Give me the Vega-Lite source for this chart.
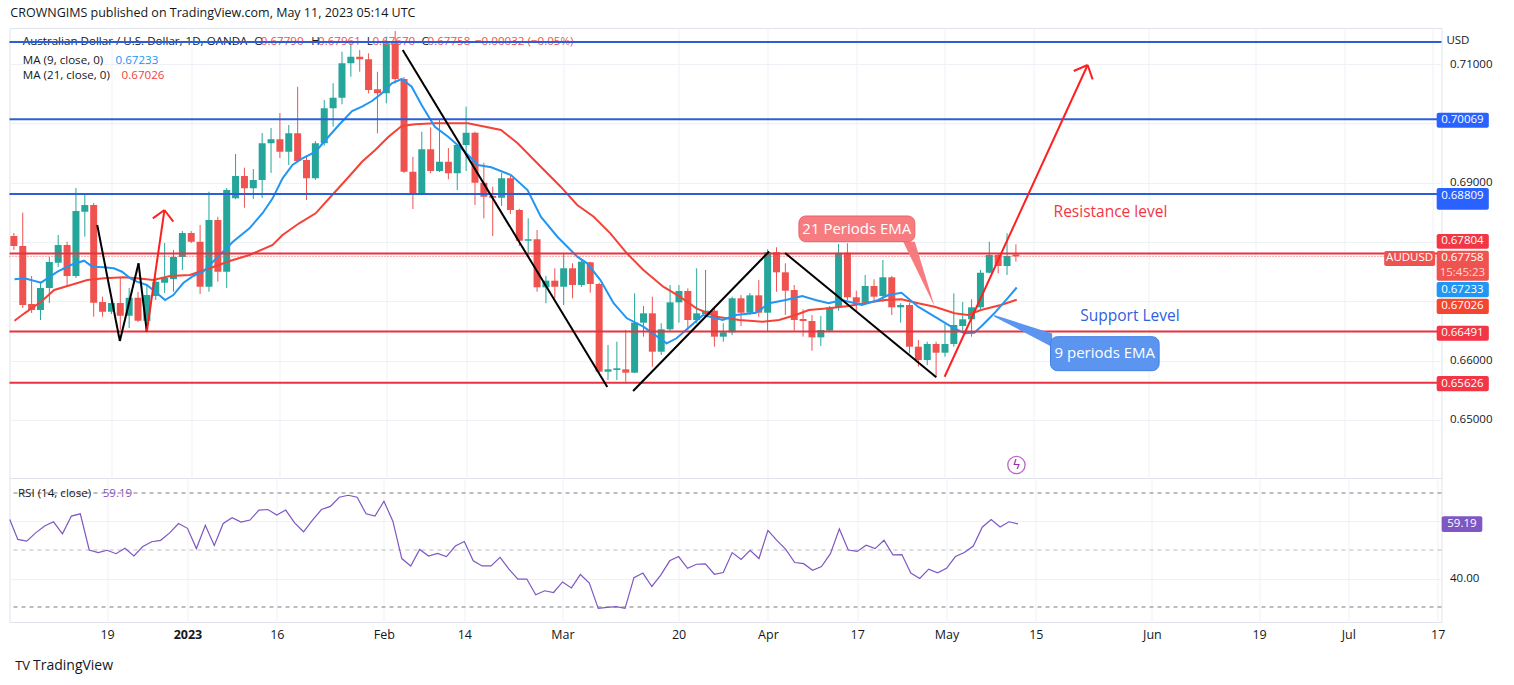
{
  "$schema": "https://vega.github.io/schema/vega-lite/v6.json",
  "description": "AUDUSD daily candles with MA 9 / MA 21, support and resistance levels, RSI pane",
  "padding": {"left": 6.5, "top": 7, "right": 0, "bottom": 0},
  "background": "white",
  "title": {
    "text": "CROWNGIMS published on TradingView.com, May 11, 2023 05:14 UTC",
    "anchor": "start", "fontSize": 12.5, "fontWeight": "normal", "color": "#131722", "offset": 8, "dx": 3.5
  },
  "config": {
    "font": "Open Sans",
    "view": {"stroke": "#E0E3EB"},
    "axis": {"labelFont": "Open Sans", "labelFontSize": 11.5, "labelColor": "#131722", "gridColor": "#EEF1F6"}
  },
  "datasets": {
    "candles": [
      {"i": -20, "o": 0.68101, "h": 0.68151, "l": 0.67865, "c": 0.67932},
      {"i": -19, "o": 0.67932, "h": 0.68494, "l": 0.66887, "c": 0.66938},
      {"i": -18, "o": 0.66955, "h": 0.67427, "l": 0.66803, "c": 0.66854},
      {"i": -17, "o": 0.66854, "h": 0.67331, "l": 0.66685, "c": 0.67225},
      {"i": -16, "o": 0.67225, "h": 0.67747, "l": 0.66972, "c": 0.67663},
      {"i": -15, "o": 0.67651, "h": 0.68118, "l": 0.67578, "c": 0.67949},
      {"i": -14, "o": 0.67949, "h": 0.68005, "l": 0.67246, "c": 0.67427},
      {"i": -13, "o": 0.67427, "h": 0.68910, "l": 0.67393, "c": 0.68522},
      {"i": -12, "o": 0.68510, "h": 0.68792, "l": 0.68089, "c": 0.68623},
      {"i": -11, "o": 0.68623, "h": 0.68657, "l": 0.66741, "c": 0.66977},
      {"i": -10, "o": 0.66988, "h": 0.67078, "l": 0.66741, "c": 0.66825},
      {"i": -9, "o": 0.66825, "h": 0.67022, "l": 0.66786, "c": 0.66972},
      {"i": -8, "o": 0.66972, "h": 0.67410, "l": 0.66517, "c": 0.66758},
      {"i": -7, "o": 0.66758, "h": 0.67225, "l": 0.66550, "c": 0.67061},
      {"i": -6, "o": 0.67061, "h": 0.67157, "l": 0.66651, "c": 0.66673},
      {"i": -5, "o": 0.66673, "h": 0.67275, "l": 0.66488, "c": 0.67106},
      {"i": -4, "o": 0.67090, "h": 0.67415, "l": 0.67022, "c": 0.67331},
      {"i": -3, "o": 0.67314, "h": 0.67983, "l": 0.67140, "c": 0.67393},
      {"i": -2, "o": 0.67376, "h": 0.67865, "l": 0.67162, "c": 0.67747},
      {"i": -1, "o": 0.67747, "h": 0.68185, "l": 0.67528, "c": 0.68151},
      {"i": 0, "o": 0.68151, "h": 0.68185, "l": 0.67983, "c": 0.68005},
      {"i": 1, "o": 0.68005, "h": 0.68286, "l": 0.67123, "c": 0.67246},
      {"i": 2, "o": 0.67246, "h": 0.68848, "l": 0.67162, "c": 0.68371},
      {"i": 3, "o": 0.68371, "h": 0.68426, "l": 0.67331, "c": 0.67499},
      {"i": 4, "o": 0.67499, "h": 0.68910, "l": 0.67225, "c": 0.68876},
      {"i": 5, "o": 0.68736, "h": 0.69483, "l": 0.68720, "c": 0.69112},
      {"i": 6, "o": 0.69112, "h": 0.69252, "l": 0.68578, "c": 0.68905},
      {"i": 7, "o": 0.68905, "h": 0.69230, "l": 0.68725, "c": 0.69045},
      {"i": 8, "o": 0.69045, "h": 0.69837, "l": 0.68741, "c": 0.69663},
      {"i": 9, "o": 0.69663, "h": 0.69921, "l": 0.69163, "c": 0.69731},
      {"i": 10, "o": 0.69731, "h": 0.70174, "l": 0.69416, "c": 0.69522},
      {"i": 11, "o": 0.69522, "h": 0.69972, "l": 0.69298, "c": 0.69832},
      {"i": 12, "o": 0.69832, "h": 0.70617, "l": 0.69343, "c": 0.69365},
      {"i": 13, "o": 0.69382, "h": 0.69437, "l": 0.68708, "c": 0.69073},
      {"i": 14, "o": 0.69073, "h": 0.69702, "l": 0.69045, "c": 0.69663},
      {"i": 15, "o": 0.69663, "h": 0.70393, "l": 0.69623, "c": 0.70253},
      {"i": 16, "o": 0.70253, "h": 0.70675, "l": 0.69943, "c": 0.70432},
      {"i": 17, "o": 0.70432, "h": 0.71207, "l": 0.70321, "c": 0.71012},
      {"i": 18, "o": 0.71012, "h": 0.71349, "l": 0.70786, "c": 0.71123},
      {"i": 19, "o": 0.71123, "h": 0.71236, "l": 0.70870, "c": 0.71079},
      {"i": 20, "o": 0.71079, "h": 0.71180, "l": 0.70506, "c": 0.70562},
      {"i": 21, "o": 0.70574, "h": 0.70870, "l": 0.69832, "c": 0.70506},
      {"i": 22, "o": 0.70506, "h": 0.71460, "l": 0.70338, "c": 0.71349},
      {"i": 23, "o": 0.71349, "h": 0.71556, "l": 0.70675, "c": 0.70747},
      {"i": 24, "o": 0.70747, "h": 0.70781, "l": 0.69163, "c": 0.69185},
      {"i": 25, "o": 0.69185, "h": 0.69437, "l": 0.68556, "c": 0.68792},
      {"i": 26, "o": 0.68804, "h": 0.69859, "l": 0.68790, "c": 0.69562},
      {"i": 27, "o": 0.69562, "h": 0.69933, "l": 0.69158, "c": 0.69197},
      {"i": 28, "o": 0.69197, "h": 0.70068, "l": 0.69180, "c": 0.69353},
      {"i": 29, "o": 0.69353, "h": 0.69584, "l": 0.69057, "c": 0.69158},
      {"i": 30, "o": 0.69158, "h": 0.69650, "l": 0.68876, "c": 0.69635},
      {"i": 31, "o": 0.69635, "h": 0.70280, "l": 0.69197, "c": 0.69842},
      {"i": 32, "o": 0.69842, "h": 0.69859, "l": 0.68623, "c": 0.68999},
      {"i": 33, "o": 0.68999, "h": 0.69336, "l": 0.68399, "c": 0.68763},
      {"i": 34, "o": 0.68775, "h": 0.68932, "l": 0.68101, "c": 0.68746},
      {"i": 35, "o": 0.68746, "h": 0.69168, "l": 0.68607, "c": 0.69073},
      {"i": 36, "o": 0.69073, "h": 0.69112, "l": 0.68472, "c": 0.68539},
      {"i": 37, "o": 0.68539, "h": 0.68560, "l": 0.67932, "c": 0.68022},
      {"i": 38, "o": 0.68022, "h": 0.68399, "l": 0.67752, "c": 0.68045},
      {"i": 39, "o": 0.68045, "h": 0.68202, "l": 0.67162, "c": 0.67236},
      {"i": 40, "o": 0.67236, "h": 0.67427, "l": 0.66967, "c": 0.67348},
      {"i": 41, "o": 0.67348, "h": 0.67557, "l": 0.67051, "c": 0.67246},
      {"i": 42, "o": 0.67246, "h": 0.67809, "l": 0.66938, "c": 0.67557},
      {"i": 43, "o": 0.67557, "h": 0.67641, "l": 0.67051, "c": 0.67275},
      {"i": 44, "o": 0.67275, "h": 0.67696, "l": 0.67241, "c": 0.67668},
      {"i": 45, "o": 0.67658, "h": 0.67668, "l": 0.67145, "c": 0.67292},
      {"i": 46, "o": 0.67292, "h": 0.67314, "l": 0.65787, "c": 0.65814},
      {"i": 47, "o": 0.65814, "h": 0.66264, "l": 0.65674, "c": 0.65854},
      {"i": 48, "o": 0.65842, "h": 0.66319, "l": 0.65674, "c": 0.65871},
      {"i": 49, "o": 0.65854, "h": 0.66517, "l": 0.65645, "c": 0.65797},
      {"i": 50, "o": 0.65797, "h": 0.67135, "l": 0.65790, "c": 0.66640},
      {"i": 51, "o": 0.66640, "h": 0.66921, "l": 0.66404, "c": 0.66798},
      {"i": 52, "o": 0.66798, "h": 0.67078, "l": 0.65898, "c": 0.66151},
      {"i": 53, "o": 0.66151, "h": 0.66630, "l": 0.66095, "c": 0.66528},
      {"i": 54, "o": 0.66528, "h": 0.67275, "l": 0.66488, "c": 0.66983},
      {"i": 55, "o": 0.66983, "h": 0.67275, "l": 0.66640, "c": 0.67174},
      {"i": 56, "o": 0.67174, "h": 0.67219, "l": 0.66517, "c": 0.66685},
      {"i": 57, "o": 0.66685, "h": 0.67557, "l": 0.66630, "c": 0.66798},
      {"i": 58, "o": 0.66786, "h": 0.67528, "l": 0.66769, "c": 0.66842},
      {"i": 59, "o": 0.66842, "h": 0.66882, "l": 0.66235, "c": 0.66404},
      {"i": 60, "o": 0.66404, "h": 0.66630, "l": 0.66319, "c": 0.66478},
      {"i": 61, "o": 0.66478, "h": 0.67078, "l": 0.66432, "c": 0.67051},
      {"i": 62, "o": 0.67051, "h": 0.67106, "l": 0.66584, "c": 0.66808},
      {"i": 63, "o": 0.66808, "h": 0.67140, "l": 0.66769, "c": 0.67101},
      {"i": 64, "o": 0.67101, "h": 0.67359, "l": 0.66741, "c": 0.66808},
      {"i": 65, "o": 0.66808, "h": 0.67877, "l": 0.66488, "c": 0.67826},
      {"i": 66, "o": 0.67826, "h": 0.67911, "l": 0.67162, "c": 0.67489},
      {"i": 67, "o": 0.67489, "h": 0.67641, "l": 0.66769, "c": 0.67179},
      {"i": 68, "o": 0.67191, "h": 0.67275, "l": 0.66505, "c": 0.66685},
      {"i": 69, "o": 0.66702, "h": 0.66865, "l": 0.66404, "c": 0.66668},
      {"i": 70, "o": 0.66668, "h": 0.66769, "l": 0.66168, "c": 0.66393},
      {"i": 71, "o": 0.66393, "h": 0.66753, "l": 0.66247, "c": 0.66517},
      {"i": 72, "o": 0.66505, "h": 0.66921, "l": 0.66483, "c": 0.66899},
      {"i": 73, "o": 0.66899, "h": 0.67966, "l": 0.66842, "c": 0.67819},
      {"i": 74, "o": 0.67819, "h": 0.67978, "l": 0.67022, "c": 0.67068},
      {"i": 75, "o": 0.67068, "h": 0.67179, "l": 0.66825, "c": 0.66977},
      {"i": 76, "o": 0.66977, "h": 0.67444, "l": 0.66938, "c": 0.67258},
      {"i": 77, "o": 0.67258, "h": 0.67371, "l": 0.67022, "c": 0.67078},
      {"i": 78, "o": 0.67090, "h": 0.67696, "l": 0.66993, "c": 0.67405},
      {"i": 79, "o": 0.67405, "h": 0.67427, "l": 0.66769, "c": 0.66899},
      {"i": 80, "o": 0.66899, "h": 0.66967, "l": 0.66640, "c": 0.66938},
      {"i": 81, "o": 0.66938, "h": 0.66977, "l": 0.66124, "c": 0.66235},
      {"i": 82, "o": 0.66235, "h": 0.66348, "l": 0.65898, "c": 0.66011},
      {"i": 83, "o": 0.66011, "h": 0.66319, "l": 0.65927, "c": 0.66281},
      {"i": 84, "o": 0.66281, "h": 0.66319, "l": 0.65729, "c": 0.66134},
      {"i": 85, "o": 0.66134, "h": 0.66618, "l": 0.66067, "c": 0.66281},
      {"i": 86, "o": 0.66281, "h": 0.67135, "l": 0.66235, "c": 0.66601},
      {"i": 87, "o": 0.66584, "h": 0.66988, "l": 0.66488, "c": 0.66697},
      {"i": 88, "o": 0.66697, "h": 0.67034, "l": 0.66404, "c": 0.66899},
      {"i": 89, "o": 0.66899, "h": 0.67528, "l": 0.66871, "c": 0.67482},
      {"i": 90, "o": 0.67482, "h": 0.68005, "l": 0.67472, "c": 0.67781},
      {"i": 91, "o": 0.67781, "h": 0.67809, "l": 0.67472, "c": 0.67595},
      {"i": 92, "o": 0.67595, "h": 0.68146, "l": 0.67444, "c": 0.67764},
      {"i": 93, "o": 0.67790, "h": 0.67961, "l": 0.67670, "c": 0.67758}
    ],
    "ma9": [
      {"i": -19.93, "p": 0.67371}, {"i": -18.81, "p": 0.67388}, {"i": -16.94, "p": 0.67314}, {"i": -15.08, "p": 0.67499},
      {"i": -13.58, "p": 0.67612}, {"i": -12.09, "p": 0.67685}, {"i": -11.16, "p": 0.67584}, {"i": -9.85, "p": 0.67573},
      {"i": -8.73, "p": 0.67557}, {"i": -7.81, "p": 0.67499}, {"i": -6.86, "p": 0.67388}, {"i": -6.13, "p": 0.67331},
      {"i": -5.01, "p": 0.67275}, {"i": -4.06, "p": 0.67162}, {"i": -2.95, "p": 0.67022}, {"i": -2.02, "p": 0.67106},
      {"i": -0.9, "p": 0.67309}, {"i": 0.22, "p": 0.67427}, {"i": 1.34, "p": 0.67499}, {"i": 3.21, "p": 0.67781},
      {"i": 4.7, "p": 0.68005}, {"i": 6.57, "p": 0.68231}, {"i": 8.06, "p": 0.68489}, {"i": 9.18, "p": 0.68736},
      {"i": 10.3, "p": 0.69073}, {"i": 11.42, "p": 0.69298}, {"i": 12.54, "p": 0.69411}, {"i": 14.03, "p": 0.69522},
      {"i": 15.15, "p": 0.69719}, {"i": 16.65, "p": 0.69972}, {"i": 18.14, "p": 0.70208}, {"i": 19.26, "p": 0.7028},
      {"i": 20.38, "p": 0.70376}, {"i": 21.5, "p": 0.70506}, {"i": 22.62, "p": 0.70675}, {"i": 23.74, "p": 0.70747},
      {"i": 24.86, "p": 0.70617}, {"i": 25.98, "p": 0.70309}, {"i": 27.47, "p": 0.69943}, {"i": 28.97, "p": 0.69775},
      {"i": 30.46, "p": 0.69579}, {"i": 32.33, "p": 0.69298}, {"i": 33.83, "p": 0.69259}, {"i": 36.06, "p": 0.69129},
      {"i": 37.93, "p": 0.68876}, {"i": 39.42, "p": 0.68426}, {"i": 41.29, "p": 0.68089}, {"i": 43.53, "p": 0.67752},
      {"i": 44.65, "p": 0.67641}, {"i": 46.14, "p": 0.67359}, {"i": 47.63, "p": 0.66967}, {"i": 49.13, "p": 0.66714},
      {"i": 50.99, "p": 0.66572}, {"i": 53.61, "p": 0.66292}, {"i": 54.73, "p": 0.66377}, {"i": 56.22, "p": 0.66572},
      {"i": 57.71, "p": 0.66769}, {"i": 59.94, "p": 0.66685}, {"i": 61.44, "p": 0.66769}, {"i": 63.68, "p": 0.66808},
      {"i": 65.17, "p": 0.66967}, {"i": 67.04, "p": 0.67022}, {"i": 68.9, "p": 0.6709}, {"i": 70.4, "p": 0.67022},
      {"i": 71.89, "p": 0.66967}, {"i": 73.38, "p": 0.67022}, {"i": 75.62, "p": 0.66938}, {"i": 77.49, "p": 0.67022},
      {"i": 78.61, "p": 0.67106}, {"i": 80.1, "p": 0.67145}, {"i": 81.97, "p": 0.66909}, {"i": 83.84, "p": 0.66741},
      {"i": 85.7, "p": 0.66572}, {"i": 87.2, "p": 0.66461}, {"i": 88.32, "p": 0.66471}, {"i": 89.25, "p": 0.66601},
      {"i": 90.56, "p": 0.66798}, {"i": 92.05, "p": 0.67051}, {"i": 93.09, "p": 0.67233}
    ],
    "ma21": [
      {"i": -19.93, "p": 0.66673}, {"i": -18.81, "p": 0.66798}, {"i": -16.94, "p": 0.66993}, {"i": -15.45, "p": 0.67191},
      {"i": -13.58, "p": 0.67275}, {"i": -11.72, "p": 0.67359}, {"i": -9.85, "p": 0.67388}, {"i": -7.61, "p": 0.67405},
      {"i": -6.13, "p": 0.67388}, {"i": -4.26, "p": 0.67359}, {"i": -2.39, "p": 0.67427}, {"i": -0.15, "p": 0.67444},
      {"i": 2.09, "p": 0.67557}, {"i": 4.33, "p": 0.6768}, {"i": 6.57, "p": 0.67781}, {"i": 9.18, "p": 0.67949},
      {"i": 10.3, "p": 0.68118}, {"i": 12.17, "p": 0.68315}, {"i": 14.03, "p": 0.68483}, {"i": 15.9, "p": 0.68792},
      {"i": 17.77, "p": 0.691}, {"i": 19.26, "p": 0.69353}, {"i": 20.75, "p": 0.6955}, {"i": 22.25, "p": 0.69775},
      {"i": 23.74, "p": 0.69955}, {"i": 25.23, "p": 0.69984}, {"i": 27.47, "p": 0.7}, {"i": 31.21, "p": 0.7},
      {"i": 34.94, "p": 0.69888}, {"i": 36.81, "p": 0.69663}, {"i": 39.42, "p": 0.69269}, {"i": 41.66, "p": 0.68932},
      {"i": 43.53, "p": 0.68623}, {"i": 45.39, "p": 0.68426}, {"i": 47.26, "p": 0.68146}, {"i": 49.13, "p": 0.67809},
      {"i": 50.99, "p": 0.67528}, {"i": 53.23, "p": 0.67246}, {"i": 55.1, "p": 0.67078}, {"i": 56.97, "p": 0.66882},
      {"i": 59.2, "p": 0.66741}, {"i": 61.81, "p": 0.66685}, {"i": 64.42, "p": 0.66656}, {"i": 66.29, "p": 0.66685},
      {"i": 68.16, "p": 0.66769}, {"i": 69.65, "p": 0.66854}, {"i": 71.89, "p": 0.66882}, {"i": 74.13, "p": 0.66921},
      {"i": 76.37, "p": 0.6698}, {"i": 78.24, "p": 0.67022}, {"i": 80.1, "p": 0.67034}, {"i": 81.97, "p": 0.66967},
      {"i": 83.84, "p": 0.66909}, {"i": 86.08, "p": 0.66798}, {"i": 87.57, "p": 0.66769}, {"i": 89.06, "p": 0.66854},
      {"i": 91.3, "p": 0.66938}, {"i": 93.09, "p": 0.67026}
    ],
    "rsi": [
      {"i": -19.9, "v": 60.7}, {"i": -19, "v": 53.7}, {"i": -18, "v": 53.1}, {"i": -17, "v": 56.0}, {"i": -16, "v": 58.4},
      {"i": -15, "v": 59.9}, {"i": -14, "v": 55.7}, {"i": -13, "v": 61.9}, {"i": -12, "v": 62.7}, {"i": -11, "v": 50.0},
      {"i": -10, "v": 49.1}, {"i": -9, "v": 49.9}, {"i": -8, "v": 48.7}, {"i": -7, "v": 50.6}, {"i": -6, "v": 47.9},
      {"i": -5, "v": 51.2}, {"i": -4, "v": 52.9}, {"i": -3, "v": 53.4}, {"i": -2, "v": 56.0}, {"i": -1, "v": 59.3},
      {"i": 0, "v": 57.6}, {"i": 1, "v": 50.5}, {"i": 2, "v": 58.7}, {"i": 3, "v": 51.6}, {"i": 4, "v": 59.3},
      {"i": 5, "v": 61.3}, {"i": 6, "v": 59.8}, {"i": 7, "v": 60.5}, {"i": 8, "v": 64.0}, {"i": 9, "v": 64.2},
      {"i": 10, "v": 62.3}, {"i": 11, "v": 64.0}, {"i": 12, "v": 59.5}, {"i": 13, "v": 56.4}, {"i": 14, "v": 60.5},
      {"i": 15, "v": 64.2}, {"i": 16, "v": 65.3}, {"i": 17, "v": 68.5}, {"i": 18, "v": 69.2}, {"i": 19, "v": 68.5},
      {"i": 20, "v": 62.7}, {"i": 21, "v": 61.9}, {"i": 22, "v": 67.1}, {"i": 23, "v": 60.1}, {"i": 24, "v": 47.0},
      {"i": 25, "v": 44.4}, {"i": 26, "v": 50.2}, {"i": 27, "v": 47.9}, {"i": 28, "v": 48.8}, {"i": 29, "v": 47.7},
      {"i": 30, "v": 51.4}, {"i": 31, "v": 53.0}, {"i": 32, "v": 46.2}, {"i": 33, "v": 44.4}, {"i": 34, "v": 44.4},
      {"i": 35, "v": 47.4}, {"i": 36, "v": 43.3}, {"i": 37, "v": 39.8}, {"i": 38, "v": 39.8}, {"i": 39, "v": 34.3},
      {"i": 40, "v": 35.7}, {"i": 41, "v": 35.1}, {"i": 42, "v": 38.8}, {"i": 43, "v": 36.7}, {"i": 44, "v": 41.4},
      {"i": 45, "v": 38.4}, {"i": 46, "v": 29.5}, {"i": 47, "v": 29.9}, {"i": 48, "v": 30.1}, {"i": 49, "v": 29.5},
      {"i": 50, "v": 40.3}, {"i": 51, "v": 41.9}, {"i": 52, "v": 37.2}, {"i": 53, "v": 41.2}, {"i": 54, "v": 46.2},
      {"i": 55, "v": 47.7}, {"i": 56, "v": 43.6}, {"i": 57, "v": 45.0}, {"i": 58, "v": 45.1}, {"i": 59, "v": 41.5},
      {"i": 60, "v": 42.1}, {"i": 61, "v": 49.1}, {"i": 62, "v": 46.7}, {"i": 63, "v": 49.9}, {"i": 64, "v": 47.0},
      {"i": 65, "v": 56.9}, {"i": 66, "v": 53.4}, {"i": 67, "v": 50.2}, {"i": 68, "v": 45.6}, {"i": 69, "v": 45.2},
      {"i": 70, "v": 42.9}, {"i": 71, "v": 44.2}, {"i": 72, "v": 48.7}, {"i": 73, "v": 57.4}, {"i": 74, "v": 50.0},
      {"i": 75, "v": 49.5}, {"i": 76, "v": 51.7}, {"i": 77, "v": 50.5}, {"i": 78, "v": 53.4}, {"i": 79, "v": 48.3},
      {"i": 80, "v": 48.4}, {"i": 81, "v": 41.9}, {"i": 82, "v": 40.0}, {"i": 83, "v": 43.3}, {"i": 84, "v": 42.0},
      {"i": 85, "v": 43.6}, {"i": 86, "v": 47.7}, {"i": 87, "v": 49.1}, {"i": 88, "v": 51.4}, {"i": 89, "v": 58.0},
      {"i": 90, "v": 60.7}, {"i": 91, "v": 58.1}, {"i": 92, "v": 59.9}, {"i": 93, "v": 59.19}
    ],
    "segments": [
      {"i": -10.6, "p": 0.68286, "i2": -8.05, "p2": 0.66331, "k": "pattern"},
      {"i": -8.05, "p": 0.66331, "i2": -5.94, "p2": 0.67641, "k": "pattern"},
      {"i": -5.94, "p": 0.67641, "i2": -5.01, "p2": 0.66488, "k": "pattern"},
      {"i": -5.01, "p": 0.66488, "i2": -3.02, "p2": 0.68539, "k": "projection"},
      {"i": -4.33, "p": 0.68399, "i2": -3.02, "p2": 0.68539, "k": "projection"},
      {"i": -3.02, "p": 0.68539, "i2": -2.02, "p2": 0.68342, "k": "projection"},
      {"i": 23.85, "p": 0.71236, "i2": 46.92, "p2": 0.65556, "k": "pattern"},
      {"i": 49.83, "p": 0.65488, "i2": 65.17, "p2": 0.6784, "k": "pattern"},
      {"i": 66.97, "p": 0.67814, "i2": 84.02, "p2": 0.65719, "k": "pattern"},
      {"i": 84.96, "p": 0.65729, "i2": 101.09, "p2": 0.70983, "k": "projection"},
      {"i": 99.52, "p": 0.70882, "i2": 101.09, "p2": 0.70983, "k": "projection"},
      {"i": 101.65, "p": 0.70742, "i2": 101.09, "p2": 0.70983, "k": "projection"}
    ],
    "levels": [
      {"p": 0.71371, "k": "upper"}, {"p": 0.70069, "k": "upper"}, {"p": 0.68809, "k": "upper"},
      {"p": 0.67804, "k": "lower"}, {"p": 0.66491, "k": "lower"}, {"p": 0.65626, "k": "lower"}
    ],
    "legend": [
      {"i": -18.99, "p": 0.71371, "t": "Australian Dollar / U.S. Dollar, 1D, OANDA", "k": "lab"},
      {"i": 7.1, "p": 0.71371, "t": "O", "k": "lab"},
      {"i": 7.84, "p": 0.71371, "t": "0.67790", "k": "down"},
      {"i": 13.53, "p": 0.71371, "t": "H", "k": "lab"},
      {"i": 14.3, "p": 0.71371, "t": "0.67961", "k": "down"},
      {"i": 19.79, "p": 0.71371, "t": "L", "k": "lab"},
      {"i": 20.43, "p": 0.71371, "t": "0.67670", "k": "down"},
      {"i": 25.96, "p": 0.71371, "t": "C", "k": "lab"},
      {"i": 26.65, "p": 0.71371, "t": "0.67758", "k": "down"},
      {"i": 32.0, "p": 0.71371, "t": "−0.00032 (−0.05%)", "k": "down"},
      {"i": -18.99, "p": 0.71051, "t": "MA (9, close, 0)", "k": "lab"},
      {"i": -8.54, "p": 0.71051, "t": "0.67233", "k": "ma9"},
      {"i": -18.99, "p": 0.70798, "t": "MA (21, close, 0)", "k": "lab"},
      {"i": -7.85, "p": 0.70798, "t": "0.67026", "k": "ma21"}
    ],
    "badges": [
      {"p": 0.70179, "p2": 0.69926, "k": "upper"},
      {"p": 0.6891, "p2": 0.68545, "k": "upper"},
      {"p": 0.68135, "p2": 0.67887, "k": "lower"},
      {"p": 0.67853, "p2": 0.67348, "k": "price"},
      {"p": 0.67326, "p2": 0.67068, "k": "ma9"},
      {"p": 0.67044, "p2": 0.66786, "k": "ma21"},
      {"p": 0.66589, "p2": 0.66336, "k": "lower"},
      {"p": 0.65741, "p2": 0.65483, "k": "lower"}
    ],
    "badgeText": [
      {"p": 0.70053, "t": "0.70069", "k": "val"},
      {"p": 0.68783, "t": "0.68809", "k": "val"},
      {"p": 0.68011, "t": "0.67804", "k": "val"},
      {"p": 0.6773, "t": "0.67758", "k": "val"},
      {"p": 0.67477, "t": "15:45:23", "k": "timer"},
      {"p": 0.67196, "t": "0.67233", "k": "val"},
      {"p": 0.66916, "t": "0.67026", "k": "val"},
      {"p": 0.66463, "t": "0.66491", "k": "val"},
      {"p": 0.65611, "t": "0.65626", "k": "val"}
    ]
  },
  "vconcat": [
    {
      "width": 1432,
      "height": 450,
      "resolve": {"scale": {"color": "independent"}},
      "layer": [
        {
          "data": {"name": "candles"},
          "mark": {"type": "rule", "clip": true, "strokeWidth": 1},
          "encoding": {
            "x": {"field": "i", "type": "quantitative", "title": null,
              "scale": {"domain": [-19.93, 140.43], "nice": false, "zero": false},
              "axis": {"values": [-9, 0, 10, 22, 31, 42, 55, 65, 75, 85, 95, 108, 120, 130, 140], "labels": false, "ticks": false, "domain": false, "grid": true, "title": null}},
            "y": {"field": "l", "type": "quantitative", "title": null,
              "scale": {"domain": [0.64022, 0.71607], "nice": false, "zero": false},
              "axis": {"orient": "right", "values": [0.65, 0.66, 0.67, 0.68, 0.69, 0.7, 0.71], "title": null, "domain": false, "ticks": false, "grid": true, "labelPadding": 8, "labelAlign": "left",
                "labelExpr": "(datum.value > 0.6695 && datum.value < 0.6705) || (datum.value > 0.6795 && datum.value < 0.6805) || (datum.value > 0.6995 && datum.value < 0.7005) ? '' : format(datum.value, '.5f')"}},
            "y2": {"field": "h"},
            "color": {"condition": {"test": "datum.c >= datum.o", "value": "#26A69A"}, "value": "#EF5350"}
          }
        },
        {
          "data": {"name": "candles"},
          "mark": {"type": "bar", "clip": true, "width": 7},
          "encoding": {
            "x": {"field": "i", "type": "quantitative", "title": null},
            "y": {"field": "o", "type": "quantitative", "title": null},
            "y2": {"field": "c"},
            "color": {"condition": {"test": "datum.c >= datum.o", "value": "#26A69A"}, "value": "#EF5350"}
          }
        },
        {
          "data": {"name": "ma21"},
          "mark": {"type": "line", "color": "#F44336", "strokeWidth": 2, "clip": true},
          "encoding": {"x": {"field": "i", "type": "quantitative", "title": null}, "y": {"field": "p", "type": "quantitative", "title": null}}
        },
        {
          "data": {"name": "ma9"},
          "mark": {"type": "line", "color": "#2196F3", "strokeWidth": 2, "clip": true},
          "encoding": {"x": {"field": "i", "type": "quantitative", "title": null}, "y": {"field": "p", "type": "quantitative", "title": null}}
        },
        {
          "data": {"name": "legend"},
          "mark": {"type": "text", "align": "left", "baseline": "middle", "fontSize": 11.6},
          "encoding": {
            "x": {"field": "i", "type": "quantitative", "title": null},
            "y": {"field": "p", "type": "quantitative", "title": null},
            "text": {"field": "t"},
            "color": {"field": "k", "type": "nominal", "legend": null,
              "scale": {"domain": ["lab", "down", "ma9", "ma21"], "range": ["#131722", "#EF5350", "#2196F3", "#F44336"]}}
          }
        },
        {
          "data": {"values": [{"p": 0.67758}]},
          "mark": {"type": "rule", "color": "#EF5350", "strokeWidth": 1, "strokeDash": [1, 2]},
          "encoding": {"y": {"field": "p", "type": "quantitative", "title": null}}
        },
        {
          "data": {"name": "levels"},
          "mark": {"type": "rule", "strokeWidth": 2},
          "encoding": {
            "y": {"field": "p", "type": "quantitative", "title": null},
            "color": {"field": "k", "type": "nominal", "legend": null,
              "scale": {"domain": ["upper", "lower"], "range": ["#2B5FD9", "#E8323F"]}}
          }
        },
        {
          "data": {"name": "segments"},
          "mark": {"type": "rule", "strokeWidth": 2},
          "encoding": {
            "x": {"field": "i", "type": "quantitative", "title": null},
            "y": {"field": "p", "type": "quantitative", "title": null},
            "x2": {"field": "i2"},
            "y2": {"field": "p2"},
            "color": {"field": "k", "type": "nominal", "legend": null,
              "scale": {"domain": ["pattern", "projection"], "range": ["#000000", "#FF1F1F"]}}
          }
        },
        {
          "data": {"values": [{"i": 80.29, "p": 0.68005, "p2": 0.68005}, {"i": 81.6, "p": 0.68005, "p2": 0.676}, {"i": 83.84, "p": 0.66909, "p2": 0.66909}]},
          "mark": {"type": "area", "color": "#F77C80", "opacity": 1},
          "encoding": {"x": {"field": "i", "type": "quantitative", "title": null}, "y": {"field": "p", "type": "quantitative", "title": null}, "y2": {"field": "p2"}}
        },
        {
          "data": {"values": [{"i": 90.56, "p": 0.66769, "p2": 0.66741}, {"i": 97.09, "p": 0.66458, "p2": 0.6623}]},
          "mark": {"type": "area", "color": "#5B95F0", "opacity": 1},
          "encoding": {"x": {"field": "i", "type": "quantitative", "title": null}, "y": {"field": "p", "type": "quantitative", "title": null}, "y2": {"field": "p2"}}
        },
        {
          "data": {"values": [
            {"i": 68.53, "i2": 81.6, "p": 0.68438, "p2": 0.68005, "k": "ema21"},
            {"i": 96.9, "i2": 109.15, "p": 0.66404, "p2": 0.65831, "k": "ema9"}
          ]},
          "mark": {"type": "rect", "cornerRadius": 7, "strokeWidth": 1},
          "encoding": {
            "x": {"field": "i", "type": "quantitative", "title": null},
            "x2": {"field": "i2"},
            "y": {"field": "p", "type": "quantitative", "title": null},
            "y2": {"field": "p2"},
            "color": {"field": "k", "type": "nominal", "legend": null,
              "scale": {"domain": ["ema21", "ema9"], "range": ["#F77C80", "#5B95F0"]}},
            "stroke": {"field": "k", "type": "nominal", "legend": null,
              "scale": {"domain": ["ema21", "ema9"], "range": ["#E8616A", "#3F7FE6"]}}
          }
        },
        {
          "data": {"values": [
            {"i": 75.06, "p": 0.68219, "t": "21 Periods EMA"},
            {"i": 103.02, "p": 0.66121, "t": "9 periods EMA"}
          ]},
          "mark": {"type": "text", "color": "white", "fontSize": 15, "align": "center", "baseline": "middle"},
          "encoding": {"x": {"field": "i", "type": "quantitative", "title": null}, "y": {"field": "p", "type": "quantitative", "title": null}, "text": {"field": "t"}}
        },
        {
          "data": {"values": [
            {"i": 97.25, "p": 0.6851, "t": "Resistance level", "k": "res"},
            {"i": 100.26, "p": 0.66753, "t": "Support Level", "k": "sup"}
          ]},
          "mark": {"type": "text", "fontSize": 15.5, "align": "left", "baseline": "middle"},
          "encoding": {
            "x": {"field": "i", "type": "quantitative", "title": null},
            "y": {"field": "p", "type": "quantitative", "title": null},
            "text": {"field": "t"},
            "color": {"field": "k", "type": "nominal", "legend": null,
              "scale": {"domain": ["res", "sup"], "range": ["#F23645", "#2F5FE0"]}}
          }
        },
        {
          "data": {"values": [{"i": 93.06, "p": 0.64241}]},
          "mark": {"type": "point", "shape": "circle", "size": 300, "filled": false, "stroke": "#9C27B0", "strokeWidth": 1.3},
          "encoding": {"x": {"field": "i", "type": "quantitative", "title": null}, "y": {"field": "p", "type": "quantitative", "title": null}}
        },
        {
          "data": {"values": [{"i": 93.06, "p": 0.64241, "t": "ϟ"}]},
          "mark": {"type": "text", "color": "#9C27B0", "fontSize": 13, "align": "center", "baseline": "middle", "font": "DejaVu Sans"},
          "encoding": {"x": {"field": "i", "type": "quantitative", "title": null}, "y": {"field": "p", "type": "quantitative", "title": null}, "text": {"field": "t"}}
        },
        {
          "data": {"values": [{"i": 134.53, "i2": 140.28, "p": 0.67848, "p2": 0.67595}]},
          "mark": {"type": "rect", "color": "#EF5350", "cornerRadius": 2},
          "encoding": {"x": {"field": "i", "type": "quantitative", "title": null}, "x2": {"field": "i2"}, "y": {"field": "p", "type": "quantitative", "title": null}, "y2": {"field": "p2"}}
        },
        {
          "data": {"values": [{"i": 137.4, "p": 0.67722, "t": "AUDUSD"}]},
          "mark": {"type": "text", "color": "white", "fontSize": 11.5, "align": "center", "baseline": "middle"},
          "encoding": {"x": {"field": "i", "type": "quantitative", "title": null}, "y": {"field": "p", "type": "quantitative", "title": null}, "text": {"field": "t"}}
        },
        {
          "data": {"name": "badges"},
          "mark": {"type": "rect", "clip": false, "cornerRadius": 2},
          "encoding": {
            "x": {"datum": 140.45},
            "x2": {"datum": 146.33},
            "y": {"field": "p", "type": "quantitative", "title": null},
            "y2": {"field": "p2"},
            "color": {"field": "k", "type": "nominal", "legend": null,
              "scale": {"domain": ["upper", "lower", "price", "ma9", "ma21"], "range": ["#2962FF", "#F23645", "#EF5350", "#2196F3", "#F4452F"]}}
          }
        },
        {
          "data": {"name": "badgeText"},
          "mark": {"type": "text", "fontSize": 11.5, "align": "center", "baseline": "middle", "clip": false},
          "encoding": {
            "x": {"datum": 143.35},
            "y": {"field": "p", "type": "quantitative", "title": null},
            "text": {"field": "t"},
            "color": {"condition": {"test": "datum.k == 'timer'", "value": "#FFD6D6"}, "value": "white"}
          }
        },
        {
          "data": {"values": [{"p": 0.71393, "t": "USD"}]},
          "mark": {"type": "text", "fontSize": 11.5, "align": "left", "baseline": "middle", "color": "#131722", "clip": false},
          "encoding": {"x": {"datum": 141.55}, "y": {"field": "p", "type": "quantitative", "title": null}, "text": {"field": "t"}}
        }
      ]
    },
    {
      "width": 1432,
      "height": 144,
      "layer": [
        {
          "mark": {"type": "rect", "color": "#7E57C2", "opacity": 0.1},
          "encoding": {"y": {"datum": 30}, "y2": {"datum": 70}}
        },
        {
          "data": {"values": [{"v": 70, "k": "edge"}, {"v": 30, "k": "edge"}, {"v": 50, "k": "mid"}]},
          "mark": {"type": "rule", "strokeWidth": 1, "strokeDash": [4, 4]},
          "encoding": {
            "y": {"field": "v", "type": "quantitative", "title": null},
            "color": {"field": "k", "type": "nominal", "legend": null,
              "scale": {"domain": ["edge", "mid"], "range": ["#787B86", "#B9BBC2"]}}
          }
        },
        {
          "data": {"name": "rsi"},
          "mark": {"type": "line", "color": "#7E57C2", "strokeWidth": 1.2},
          "encoding": {
            "x": {"field": "i", "type": "quantitative", "title": null,
              "scale": {"domain": [-19.93, 140.43], "nice": false, "zero": false},
              "axis": {"values": [-9, 0, 10, 22, 31, 42, 55, 65, 75, 85, 95, 108, 120, 130, 140], "ticks": false, "domain": false, "grid": true,
                "labelPadding": 6, "labelFontSize": 12.5, "title": null,
                "labelFontWeight": {"condition": {"test": "datum.value == 0", "value": "bold"}, "value": "normal"},
                "labelExpr": "['19','2023','16','Feb','14','Mar','20','Apr','17','May','15','Jun','19','Jul','17'][indexof([-9,0,10,22,31,42,55,65,75,85,95,108,120,130,140], datum.value)]"}},
            "y": {"field": "v", "type": "quantitative", "title": null,
              "scale": {"domain": [24.74, 75.26], "nice": false, "zero": false},
              "axis": {"orient": "right", "values": [40, 60], "title": null, "domain": false, "ticks": false, "grid": true, "labelPadding": 8, "labelAlign": "left",
                "labelExpr": "datum.value == 40 ? '40.00' : ''"}}
          }
        },
        {
          "data": {"values": [
            {"i": -18.99, "v": 69.8, "t": "RSI (14, close)", "k": "lab"},
            {"i": -9.5, "v": 69.8, "t": "59.19", "k": "rsi"}
          ]},
          "mark": {"type": "text", "fontSize": 11.6, "align": "left", "baseline": "middle"},
          "encoding": {
            "x": {"field": "i", "type": "quantitative", "title": null},
            "y": {"field": "v", "type": "quantitative", "title": null},
            "text": {"field": "t"},
            "color": {"condition": {"test": "datum.k == 'rsi'", "value": "#7E57C2"}, "value": "#131722"}
          }
        },
        {
          "data": {"values": [{"i": -19.3, "v": 9.3, "t": "TV", "k": "logo"}, {"i": -17.3, "v": 9.3, "t": "TradingView", "k": "name"}]},
          "mark": {"type": "text", "align": "left", "baseline": "middle", "clip": false, "color": "#131722"},
          "encoding": {
            "x": {"field": "i", "type": "quantitative", "title": null},
            "y": {"field": "v", "type": "quantitative", "title": null},
            "text": {"field": "t"},
            "size": {"condition": {"test": "datum.k == 'logo'", "value": 13}, "value": 14},
            "fontWeight": {"condition": {"test": "datum.k == 'logo'", "value": "bold"}, "value": "normal"}
          }
        },
        {
          "data": {"values": [{"v": 61.86, "v2": 56.28}]},
          "mark": {"type": "rect", "color": "#7E57C2", "clip": false, "cornerRadius": 2},
          "encoding": {"x": {"datum": 140.45}, "x2": {"datum": 145.0}, "y": {"field": "v", "type": "quantitative", "title": null}, "y2": {"field": "v2"}}
        },
        {
          "data": {"values": [{"v": 59.07, "t": "59.19"}]},
          "mark": {"type": "text", "color": "white", "fontSize": 11.5, "align": "center", "baseline": "middle", "clip": false},
          "encoding": {"x": {"datum": 142.72}, "y": {"field": "v", "type": "quantitative", "title": null}, "text": {"field": "t"}}
        }
      ]
    }
  ],
  "spacing": 0,
  "bounds": "flush"
}
